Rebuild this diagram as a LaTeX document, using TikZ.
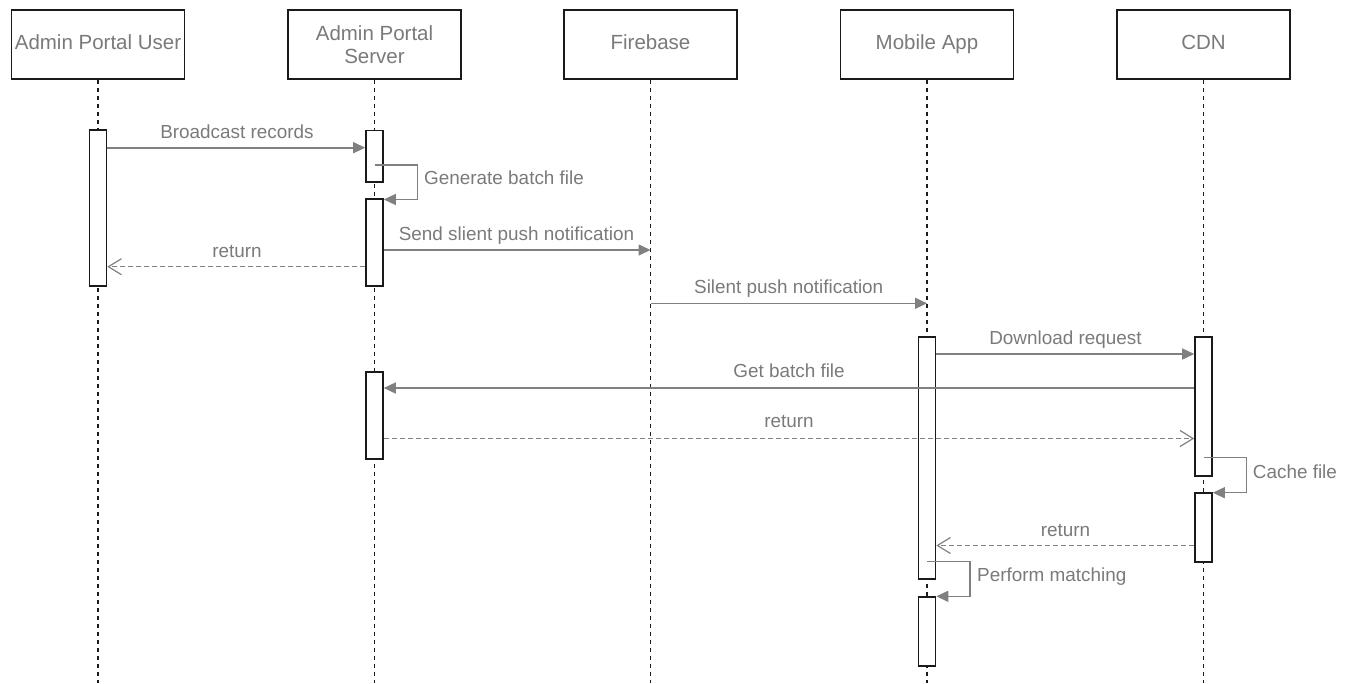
\documentclass[tikz,border=0pt]{standalone}
\usepackage{fontspec}
\setmainfont{Liberation Sans}
\usetikzlibrary{arrows.meta}
\definecolor{msggray}{HTML}{808080}
\definecolor{txtgray}{HTML}{7A7A7A}
\definecolor{edge}{HTML}{1A1A1A}
\tikzset{
  x=1pt, y=-1pt,
  header/.style={draw=edge, line width=1.6pt, fill=white, minimum width=173pt,
    minimum height=69pt, inner sep=0pt, text=txtgray, align=center,
    font=\fontsize{20.5}{23}\selectfont},
  header1/.style={header, text height=15pt, text depth=4.5pt},
  lifeline/.style={draw=edge, line width=1.2pt, dash pattern=on 4pt off 4pt},
  act/.style={draw=edge, line width=1.6pt, fill=white, minimum width=17pt, inner sep=0pt},
  msg/.style={draw=msggray, line width=1.6pt, -{Triangle[length=12pt,width=11pt]}},
  ret/.style={draw=msggray, line width=1.3pt, dash pattern=on 5pt off 3pt,
    -{Straight Barb[length=13pt,width=16pt,line width=1.2pt]}},
  selfmsg/.style={draw=msggray, line width=1.3pt, -{Triangle[length=12pt,width=11pt]}},
  lbl/.style={text=txtgray, inner sep=0pt, anchor=base, font=\fontsize{18.9}{22}\selectfont},
  slbl/.style={lbl, anchor=base west},
}
\begin{document}
\begin{tikzpicture}
\useasboundingbox (0,0) rectangle (1351,683);

% participants
\node[header1] (user) at (98,44.5) {Admin Portal User};
\node[header] (server) at (374.5,44.5) {Admin Portal\\Server};
\node[header1] (fb) at (650.5,44.5) {Firebase};
\node[header1] (app) at (927,44.5) {Mobile App};
\node[header1] (cdn) at (1203.5,44.5) {CDN};

% lifeline ends
\coordinate (userEnd) at (98,683);
\coordinate (serverEnd) at (374.5,683);
\coordinate (fbEnd) at (650.5,683);
\coordinate (appEnd) at (927,683);
\coordinate (cdnEnd) at (1203.5,683);

\draw[lifeline] (user.south) -- (userEnd);
\draw[lifeline] (server.south) -- (serverEnd);
\draw[lifeline] (fb.south) -- (fbEnd);
\draw[lifeline] (app.south) -- (appEnd);
\draw[lifeline] (cdn.south) -- (cdnEnd);

% activation bars
\node[act, minimum height=156pt] (ub) at (98,208) {};
\node[act, minimum height=51.5pt] (sb1) at (374.5,156.25) {};
\node[act, minimum height=87pt] (sb2) at (374.5,242.5) {};
\node[act, minimum height=86.5pt] (sb3) at (374.5,415.5) {};
\node[act, minimum height=242pt] (mb1) at (927,458) {};
\node[act, minimum height=69pt] (mb2) at (927,631.5) {};
\node[act, minimum height=139pt] (cb1) at (1203.5,406.5) {};
\node[act, minimum height=69pt] (cb2) at (1203.5,527.5) {};

% Broadcast records
\draw[msg] (ub.east |- 0,147.7) -- (sb1.west |- 0,147.7);
\node[lbl] (l1) at (237,138.3) {Broadcast records};

% Generate batch file (self call)
\coordinate (g1) at (374.5,165);
\coordinate (g2) at (417.7,165);
\coordinate (g3) at (417.7,199.5);
\draw[selfmsg] (g1) -- (g2) -- (g3) -- (sb2.east |- g3);
\node[slbl] (l2) at (424,184) {Generate batch file};

% Send slient push notification
\draw[msg] (sb2.east |- 0,250) -- (fb.south |- 0,250);
\node[lbl] (l3) at (516.5,240.5) {Send slient push notification};

% return to user
\draw[ret] (sb2.west |- 0,266.7) -- (ub.east |- 0,266.7);
\node[lbl] (l4) at (237,257) {return};

% Silent push notification
\draw[msg] (fb.south |- 0,303.3) -- (app.south |- 0,303.3);
\node[lbl] (l5) at (788.7,293.5) {Silent push notification};

% Download request
\draw[msg] (mb1.east |- 0,354) -- (cb1.west |- 0,354);
\node[lbl] (l6) at (1065.5,344.5) {Download request};

% Get batch file
\draw[msg] (cb1.west |- 0,388) -- (sb3.east |- 0,388);
\node[lbl] (l7) at (789,377.8) {Get batch file};

% return to CDN
\draw[ret] (sb3.east |- 0,438.5) -- (cb1.west |- 0,438.5);
\node[lbl] (l8) at (789,427.5) {return};

% Cache file (self call)
\coordinate (c1) at (1203.5,457.7);
\coordinate (c2) at (1246.7,457.7);
\coordinate (c3) at (1246.7,492.7);
\draw[selfmsg] (c1) -- (c2) -- (c3) -- (cb2.east |- c3);
\node[slbl] (l9) at (1252.7,478.3) {Cache file};

% return to app
\draw[ret] (cb2.west |- 0,545.5) -- (mb1.east |- 0,545.5);
\node[lbl] (l10) at (1065.5,536) {return};

% Perform matching (self call)
\coordinate (p1) at (927,561.7);
\coordinate (p2) at (970,561.7);
\coordinate (p3) at (970,596.3);
\draw[selfmsg] (p1) -- (p2) -- (p3) -- (mb2.east |- p3);
\node[slbl] (l11) at (977,581) {Perform matching};
\end{tikzpicture}
\end{document}
